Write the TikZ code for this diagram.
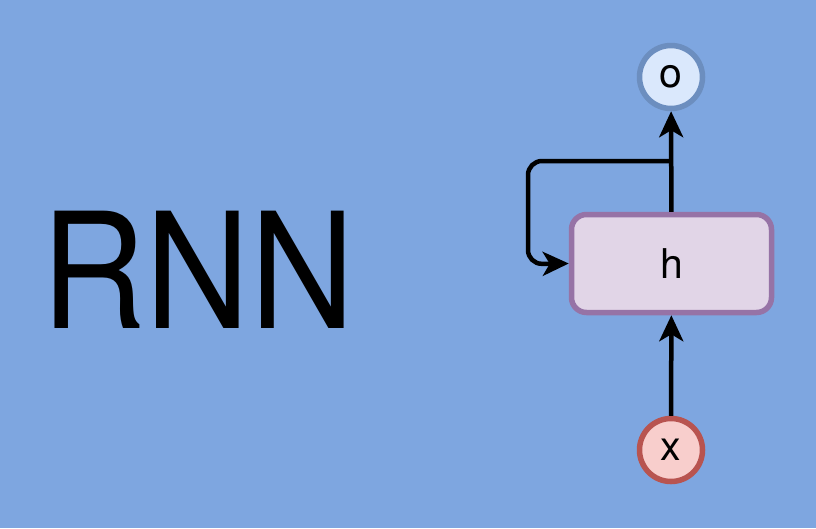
\documentclass[tikz,border=0pt]{standalone}
\usepackage{fontspec}
\setmainfont{TeX Gyre Heros}
\usetikzlibrary{arrows.meta}
\definecolor{bg}{HTML}{7EA6E0}
\definecolor{ofill}{HTML}{DAE8FC}
\definecolor{odraw}{HTML}{6C8EBF}
\definecolor{xfill}{HTML}{F8CECC}
\definecolor{xdraw}{HTML}{B85450}
\definecolor{hfill}{HTML}{E1D5E7}
\definecolor{hdraw}{HTML}{9673A6}
\tikzset{
  circnode/.style={circle, minimum size=63pt, inner sep=0pt, line width=5.5pt, font=\fontsize{41}{44}\selectfont},
  boxnode/.style={rectangle, rounded corners=15pt, minimum width=200pt, minimum height=98pt, inner sep=0pt, line width=5.5pt, font=\fontsize{41}{44}\selectfont},
  conn/.style={line width=4.5pt, -{Stealth[length=26pt,width=24pt,inset=7pt]}},
}
\begin{document}
\begin{tikzpicture}[x=1pt,y=-1pt]
\fill[bg] (0,0) rectangle (816,528);
\useasboundingbox (0,0) rectangle (816,528);
\node[xscale=0.9, transform shape, font=\fontsize{161}{170}\selectfont, anchor=base] (title) at (198,328) {RNN};
\node[circnode, fill=ofill, draw=odraw] (o) at (671,77) {o};
\node[boxnode, fill=hfill, draw=hdraw] (h) at (671.5,263.5) {h};
\node[circnode, fill=xfill, draw=xdraw] (x) at (671,450) {x};
\coordinate (split) at (671,161);
\draw[conn] (x) -- (h);
\draw[conn] (h) -- (o);
\draw[conn, rounded corners=14pt] (split) -- (528,161) -- (528,264) -- (h.west);
\end{tikzpicture}
\end{document}
